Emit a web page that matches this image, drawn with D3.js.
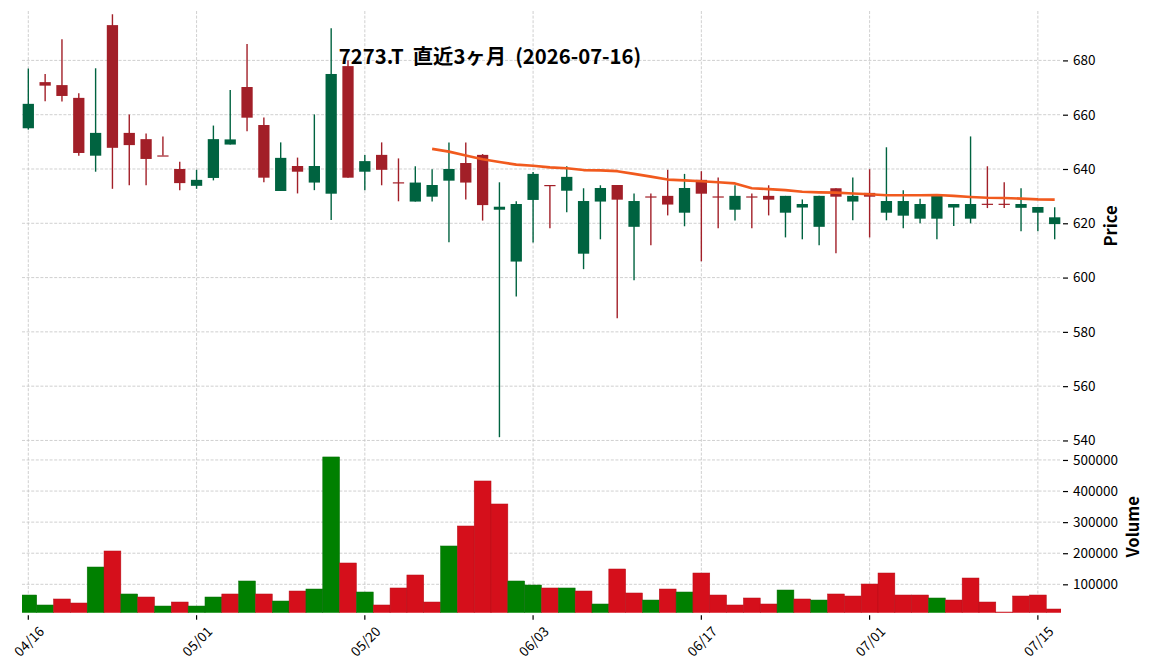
<html>
<head>
<meta charset="utf-8">
<script src="https://d3js.org/d3.v7.min.js"></script>
<style>
    body { margin: 0; background: #ffffff; }
    text { font-family: "Noto Sans CJK JP", "Noto Sans", sans-serif; fill: #000; }
</style>
</head>
<body>
<script>

    // page size, same as the window
    var width = 1152, height = 670;

    /*
     * trading days shown (tokyo market, holidays skipped)
     */
    var dates = [
        "04/16", "04/17", "04/20", "04/21", "04/22", "04/23", "04/24", "04/27", "04/28", "04/30",
        "05/01", "05/07", "05/08", "05/11", "05/12", "05/13", "05/14", "05/15", "05/18", "05/19",
        "05/20", "05/21", "05/22", "05/25", "05/26", "05/27", "05/28", "05/29", "06/01", "06/02",
        "06/03", "06/04", "06/05", "06/08", "06/09", "06/10", "06/11", "06/12", "06/15", "06/16",
        "06/17", "06/18", "06/19", "06/22", "06/23", "06/24", "06/25", "06/26", "06/29", "06/30",
        "07/01", "07/02", "07/03", "07/06", "07/07", "07/08", "07/09", "07/10", "07/13", "07/14",
        "07/15", "07/16"
    ];

    // price data
    var opens = [
        655, 672, 670.9, 666.2, 644.9, 693, 653.3, 651, 645, 640,
        633.8, 636.7, 649, 670.2, 656.2, 631.9, 641.1, 635, 630.9, 677.9,
        639, 645.2, 635.1, 628, 629.8, 635.7, 642.2, 645.2, 625, 605.9,
        628.6, 634.1, 632, 608.8, 628, 634.1, 618.7, 629.9, 630.1, 623.9,
        636, 629.9, 625, 629.9, 630.1, 623.9, 625.8, 618.7, 632.9, 628,
        631.2, 623.9, 622.8, 621.7, 621.7, 625.8, 621.7, 627.2, 627.2, 625.7,
        623.9, 619.7
    ];
    var highs = [
        677, 675, 687.8, 667.9, 677.1, 697, 660.1, 653.1, 652, 642.7,
        639.7, 656, 669.1, 686, 659, 649.8, 644.2, 660.1, 691.8, 680.1,
        645.2, 649.8, 643.9, 641, 639.9, 649.8, 649.8, 645.5, 635.1, 628.1,
        638.9, 634.1, 641, 632.9, 634, 634.1, 631, 631, 639.7, 638.2,
        639.2, 636.9, 634, 631, 634, 630.1, 628.8, 630.1, 632.9, 636.9,
        639.9, 648, 632.2, 629, 630.1, 627.1, 652, 641, 635.1, 632.9,
        626, 625.9
    ];
    var lows = [
        654.5, 665, 664.9, 644.9, 639, 632.7, 634, 634, 645, 632.2,
        632.7, 635.8, 649, 653.9, 635.1, 631.9, 631, 632.2, 621.2, 636.8,
        632.2, 634, 628.1, 628, 628, 613, 628.8, 621, 541.2, 593,
        612.9, 618.2, 624.1, 603.1, 614.1, 585, 599, 611.9, 622.9, 618.9,
        606, 618.2, 621, 618.2, 622.9, 614.8, 614.1, 611.9, 609, 621.1,
        614.8, 621.1, 618.2, 620, 614.1, 619, 620, 625.6, 625.6, 617.1,
        617.1, 614.1
    ];
    var closes = [
        664, 670.7, 666.9, 645.9, 653.3, 647.8, 648.8, 643.7, 645, 634.8,
        636, 651, 650.9, 658.9, 636.8, 644.1, 639, 641.1, 675, 636.8,
        642.9, 639.7, 635.1, 635, 634.1, 640, 635, 626.7, 626.1, 627.1,
        638.2, 634.1, 637.1, 628.2, 633, 628.7, 628.2, 629.9, 626.9, 633,
        630.9, 629.9, 630.1, 629.9, 628.7, 630.1, 627.1, 630.1, 629.8, 630.1,
        629.8, 628.2, 628.2, 627.1, 630.1, 627.1, 627.1, 627.2, 627.2, 627.1,
        626, 622.2
    ];

    // 25 day moving average (null before it starts)
    var ma25 = [
        null, null, null, null, null, null, null, null, null, null,
        null, null, null, null, null, null, null, null, null, null,
        null, null, null, null, 647.4, 646.4, 645.0, 643.6, 642.6, 641.6,
        641.2, 640.6, 640.3, 639.6, 639.5, 639.2, 638.2, 637.2, 636.1, 635.8,
        635.5, 635.1, 634.7, 632.9, 632.6, 632.2, 631.6, 631.4, 631.3, 631.0,
        630.7, 630.3, 630.3, 630.3, 630.4, 630.1, 629.7, 629.4, 629.3, 629.1,
        628.8, 628.7
    ];

    // volume, and whether each bar is drawn green (1) or red (0)
    var volumes = [
        65600, 33500, 52800, 39900, 155700, 207200, 68900, 59200, 30200, 43100,
        30200, 59200, 68900, 110700, 68900, 46300, 78500, 84900, 509700, 168600,
        75300, 33500, 88200, 130000, 43100, 223300, 287600, 432400, 358400, 110700,
        97800, 88200, 88200, 78500, 36700, 149300, 72100, 49500, 84900, 75300,
        136400, 65600, 33500, 56000, 36700, 81700, 52800, 49500, 68900, 62400,
        101000, 136400, 65600, 65600, 56000, 49500, 120300, 43100, 10900, 62400,
        65600, 20600
    ];
    var volumeUp = [
        1, 1, 0, 0, 1, 0, 1, 0, 1, 0,
        1, 1, 0, 1, 0, 1, 0, 1, 1, 0,
        1, 0, 0, 0, 0, 1, 0, 0, 0, 1,
        1, 0, 1, 0, 1, 0, 0, 1, 0, 1,
        0, 0, 0, 0, 0, 1, 0, 1, 0, 0,
        0, 0, 0, 0, 1, 0, 0, 0, 0, 0,
        0, 0
    ];

    // axis tick labels
    var xTickLabels = ["04/16", "05/01", "05/20", "06/03", "06/17", "07/01", "07/15"];
    var priceTicks = [540, 560, 580, 600, 620, 640, 660, 680];
    var volumeTicks = [100000, 200000, 300000, 400000, 500000];

    var title = "7273.T  直近3ヶ月  (2026-07-16)";

    // colours
    var upColour = "#006340", downColour = "#a21f28";
    var volUpColour = "#008000", volDownColour = "#d50f1b";
    var maColour = "#f15a1e", gridColour = "#c4c4c4";

    // panel edges (pixels)
    var left = 22, right = 1061;
    var priceTop = 11, priceBottom = 441;
    var volTop = 441, volBottom = 612.7;

    var svg = d3.select("body")
        .append("svg")
        .attr("width", width)
        .attr("height", height);

    /*
     * scales: one step per trading day, no gaps for weekends
     */
    var x = d3.scaleLinear()
        .domain([-0.375, dates.length - 1 + 0.375])
        .range([left, right]);

    var step = x(1) - x(0);

    var y = d3.scaleLinear()
        .domain([539.8, 698.2])
        .range([priceBottom, priceTop]);

    var yVol = d3.scaleLinear()
        .domain([8700, 561000])
        .range([volBottom, volTop]);

    var xTickIndex = xTickLabels.map(function (d) { return dates.indexOf(d); });

    // clip areas so nothing spills out of the panels
    var defs = svg.append("defs");
    defs.append("clipPath").attr("id", "clipPrice")
        .append("rect")
        .attr("x", left).attr("y", priceTop)
        .attr("width", right - left).attr("height", priceBottom - priceTop);
    defs.append("clipPath").attr("id", "clipVol")
        .append("rect")
        .attr("x", left).attr("y", volTop)
        .attr("width", right - left).attr("height", volBottom - volTop);

    /*
     * grid lines (dashed), both panels
     */
    var grid = svg.append("g")
        .attr("stroke", gridColour)
        .attr("stroke-width", 0.8)
        .attr("stroke-dasharray", "3,1.6");

    grid.selectAll(".vgrid")
        .data(xTickIndex)
        .enter()
        .append("line")
        .attr("x1", function (d) { return x(d); })
        .attr("x2", function (d) { return x(d); })
        .attr("y1", priceTop)
        .attr("y2", volBottom);

    grid.selectAll(".pgrid")
        .data(priceTicks)
        .enter()
        .append("line")
        .attr("x1", left).attr("x2", right)
        .attr("y1", function (d) { return y(d); })
        .attr("y2", function (d) { return y(d); });

    grid.selectAll(".volgrid")
        .data(volumeTicks)
        .enter()
        .append("line")
        .attr("x1", left).attr("x2", right)
        .attr("y1", function (d) { return yVol(d); })
        .attr("y2", function (d) { return yVol(d); });

    /*
     * candles
     */
    var candleGroup = svg.append("g").attr("clip-path", "url(#clipPrice)");
    var bodyWidth = step * 0.67;

    var candles = candleGroup.selectAll(".candle")
        .data(dates)
        .enter()
        .append("g");

    // wicks
    candles.append("line")
        .attr("x1", function (d, i) { return x(i); })
        .attr("x2", function (d, i) { return x(i); })
        .attr("y1", function (d, i) { return y(highs[i]); })
        .attr("y2", function (d, i) { return y(lows[i]); })
        .attr("stroke", function (d, i) { return closes[i] > opens[i] ? upColour : downColour; })
        .attr("stroke-width", 1.4);

    // bodies
    candles.append("rect")
        .attr("x", function (d, i) { return x(i) - bodyWidth / 2; })
        .attr("width", bodyWidth)
        .attr("y", function (d, i) { return y(Math.max(opens[i], closes[i])); })
        .attr("height", function (d, i) {
            return Math.max(1.2, Math.abs(y(opens[i]) - y(closes[i])));
        })
        .attr("fill", function (d, i) { return closes[i] > opens[i] ? upColour : downColour; });

    /*
     * moving average line
     */
    var maLine = d3.line()
        .defined(function (d) { return d !== null; })
        .x(function (d, i) { return x(i); })
        .y(function (d) { return y(d); });

    candleGroup.append("path")
        .datum(ma25)
        .attr("d", maLine)
        .attr("fill", "none")
        .attr("stroke", maColour)
        .attr("stroke-width", 2.6)
        .attr("stroke-linejoin", "round");

    /*
     * volume bars
     */
    svg.append("g")
        .attr("clip-path", "url(#clipVol)")
        .selectAll("rect")
        .data(volumes)
        .enter()
        .append("rect")
        .attr("x", function (d, i) { return x(i) - step / 2; })
        .attr("width", step)
        .attr("y", function (d) { return yVol(d); })
        .attr("height", function (d) { return Math.max(0, yVol(0) - yVol(d)); })
        .attr("fill", function (d, i) { return volumeUp[i] ? volUpColour : volDownColour; })
        .attr("stroke", function (d, i) { return volumeUp[i] ? "#0a6e0a" : "#b51019"; })
        .attr("stroke-width", 0.5);

    /*
     * right hand axes
     */
    var yAxis = d3.axisRight(y)
        .tickValues(priceTicks)
        .tickSize(5)
        .tickPadding(5);

    var yAxisGroup = svg.append("g")
        .attr("transform", "translate(" + (right + 2) + ",0)")
        .call(yAxis);

    var yVolAxis = d3.axisRight(yVol)
        .tickValues(volumeTicks)
        .tickFormat(d3.format("d"))
        .tickSize(5)
        .tickPadding(5);

    var yVolAxisGroup = svg.append("g")
        .attr("transform", "translate(" + (right + 2) + ",0)")
        .call(yVolAxis);

    [yAxisGroup, yVolAxisGroup].forEach(function (g) {
        g.select(".domain").remove();
        g.selectAll("line").attr("stroke", "#000").attr("stroke-width", 1.2);
        g.selectAll("text")
            .attr("font-size", "13.5px")
            .attr("font-family", "'Noto Sans CJK JP', 'Noto Sans', sans-serif");
    });

    /*
     * bottom axis: date labels turned 45 degrees
     */
    var xAxisGroup = svg.append("g");

    xAxisGroup.selectAll("line")
        .data(xTickIndex)
        .enter()
        .append("line")
        .attr("x1", function (d) { return x(d); })
        .attr("x2", function (d) { return x(d); })
        .attr("y1", volBottom + 2.5)
        .attr("y2", volBottom + 7)
        .attr("stroke", "#000")
        .attr("stroke-width", 1.2);

    xAxisGroup.selectAll("text")
        .data(xTickIndex)
        .enter()
        .append("text")
        .attr("transform", function (d) {
            return "translate(" + x(d) + "," + (volBottom + 28) + ") rotate(-45)";
        })
        .attr("text-anchor", "middle")
        .attr("dominant-baseline", "central")
        .attr("font-size", "13.5px")
        .text(function (d) { return dates[d]; });

    /*
     * axis names and title
     */
    svg.append("text")
        .attr("transform", "translate(1110," + ((priceTop + priceBottom) / 2) + ") rotate(-90)")
        .attr("text-anchor", "middle")
        .attr("dominant-baseline", "central")
        .attr("font-size", "16.5px")
        .attr("font-weight", "bold")
        .text("Price");

    svg.append("text")
        .attr("transform", "translate(1132," + ((volTop + volBottom) / 2) + ") rotate(-90)")
        .attr("text-anchor", "middle")
        .attr("dominant-baseline", "central")
        .attr("font-size", "16.5px")
        .attr("font-weight", "bold")
        .text("Volume");

    svg.append("text")
        .attr("x", 490)
        .attr("y", 64)
        .attr("text-anchor", "middle")
        .attr("font-size", "20.3px")
        .attr("font-weight", "bold")
        .style("white-space", "pre")
        .text(title);

</script>
</body>
</html>
